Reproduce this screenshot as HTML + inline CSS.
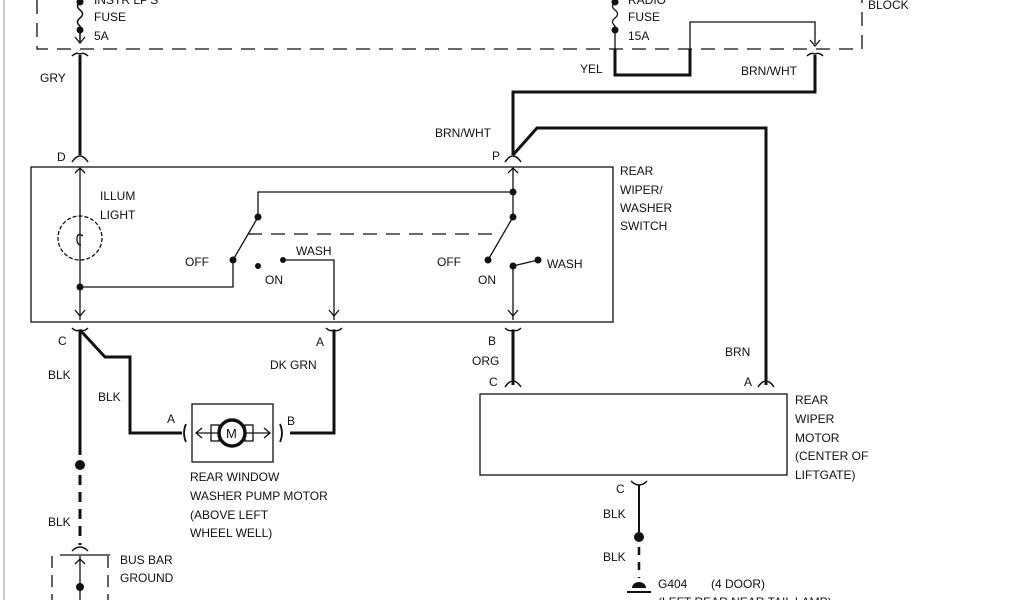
<!DOCTYPE html>
<html><head><meta charset="utf-8"><style>
html,body{margin:0;padding:0;background:#fff;}
svg{display:block;}
text{font-family:"Liberation Sans",sans-serif;font-size:12px;fill:#111;}
</style></head><body>
<svg width="1024" height="600" viewBox="0 0 1024 600" xmlns="http://www.w3.org/2000/svg">
<g stroke="#111" fill="none" stroke-width="1.3">
<line x1="4" y1="0" x2="4" y2="600" stroke="#999" stroke-width="1"/>
<path d="M37 0 V49 H862 V0" stroke-dasharray="14,9"/>
<path d="M80 2 q-5 4 0 8 q5 4 0 8 q-5 4 0 8 V42" stroke-width="1.5"/>
<path d="M75 37 L80 43 L85 37"/>
<path d="M72 56 q4 -4 8 -2 q4 -2 8 2" stroke-width="1.5"/>
<line x1="80" y1="55" x2="80" y2="155" stroke-width="3"/>
<path d="M72 162 q4 -6 8 -6 q4 0 8 6" stroke-width="1.5"/>
<path d="M75 173 L80 168 L85 173"/>
<rect x="31" y="167" width="582" height="155"/>
<line x1="80" y1="168" x2="80" y2="320"/>
<circle cx="80" cy="238" r="22" stroke-dasharray="4,2"/>
<path d="M83 236 q-6 -4 -6 3 q0 6 4 6"/>
<path d="M80 287 H233 V260"/>
<line x1="233" y1="260" x2="258" y2="217"/>
<path d="M258 217 V192 H513"/>
<line x1="248" y1="234" x2="500" y2="234" stroke-dasharray="14,9"/>
<path d="M283 260 H334 V320"/>
<line x1="513" y1="168" x2="513" y2="217"/>
<line x1="513" y1="217" x2="488" y2="260"/>
<path d="M513 320 V266 L538 260"/>
<path d="M75 310 L80 316 L85 310"/>
<path d="M329 310 L334 316 L339 310"/>
<path d="M508 310 L513 316 L518 310"/>
<path d="M508 173 L513 168 L518 173"/>
<path d="M615 2 q-5 4 0 8 q5 4 0 8 q-5 4 0 8 V49"/>
<path d="M615 49 V75 H690 V49" stroke-width="3"/>
<path d="M690 49 V22 H815 V44"/>
<path d="M810 40 L815 46 L820 40"/>
<path d="M807 56 q4 -4 8 -2 q4 -2 8 2" stroke-width="1.5"/>
<path d="M815 55 V92 H513 V155" stroke-width="3"/>
<path d="M505 162 q4 -6 8 -6 q4 0 8 6" stroke-width="1.5"/>
<path d="M513 155 L537 128 H766 V385" stroke-width="3"/>
<path d="M758 387 q4 -6 8 -6 q4 0 8 6" stroke-width="1.5"/>
<path d="M72 328 q4 4 8 2 q4 2 8 -2" stroke-width="1.5"/>
<line x1="80" y1="330" x2="80" y2="455" stroke-width="3"/>
<line x1="80" y1="475" x2="80" y2="545" stroke-width="3" stroke-dasharray="10,7"/>
<path d="M72 551 q4 -4 8 -4 q4 0 8 4" stroke-width="1.5"/>
<line x1="60" y1="555" x2="110" y2="555"/>
<path d="M75 564 L80 559 L85 564"/>
<line x1="80" y1="556" x2="80" y2="600"/>
<line x1="52" y1="556" x2="52" y2="600" stroke-dasharray="12,7"/>
<line x1="108" y1="556" x2="108" y2="600" stroke-dasharray="12,7"/>
<path d="M80 330 L105 357 H130 V433 H182" stroke-width="3"/>
<rect x="192" y="404" width="81" height="58"/>
<path d="M186 424 q-4 9 0 18" stroke-width="1.8"/>
<path d="M280 424 q4 9 0 18" stroke-width="1.8"/>
<line x1="196" y1="433" x2="270" y2="433"/>
<path d="M202 428 L196 433 L202 438"/>
<path d="M264 428 L270 433 L264 438"/>
<rect x="211" y="425" width="8" height="16"/>
<rect x="245" y="425" width="8" height="16"/>
<circle cx="232" cy="433" r="13" fill="#fff" stroke-width="3.5"/>
<path d="M334 330 V433 H290" stroke-width="3"/>
<path d="M326 328 q4 4 8 2 q4 2 8 -2" stroke-width="1.5"/>
<path d="M505 328 q4 4 8 2 q4 2 8 -2" stroke-width="1.5"/>
<line x1="513" y1="330" x2="513" y2="385" stroke-width="3"/>
<path d="M505 387 q4 -6 8 -6 q4 0 8 6" stroke-width="1.5"/>
<rect x="480" y="394" width="307" height="81"/>
<path d="M631 481 q4 4 8 4 q4 0 8 -4" stroke-width="1.5"/>
<line x1="639" y1="485" x2="639" y2="532" stroke-width="2"/>
<line x1="639" y1="547" x2="639" y2="578" stroke-width="2.5" stroke-dasharray="8,7"/>
<line x1="627" y1="592" x2="651" y2="592" stroke-width="2"/>
</g>
<g fill="#111">
<circle cx="80" cy="2" r="3.5"/><circle cx="80" cy="30" r="3.5"/>
<circle cx="615" cy="2" r="3.5"/><circle cx="615" cy="30" r="3.5"/>
<circle cx="80" cy="287" r="3.5"/><circle cx="258" cy="217" r="3.5"/>
<circle cx="233" cy="260" r="3.5"/><circle cx="258" cy="266" r="3"/>
<circle cx="283" cy="260" r="3"/>
<circle cx="513" cy="192" r="3.5"/><circle cx="513" cy="217" r="3.5"/>
<circle cx="488" cy="260" r="3.5"/><circle cx="513" cy="266" r="3.5"/>
<circle cx="538" cy="260" r="3.5"/>
<circle cx="80" cy="465" r="5"/><circle cx="80" cy="587" r="4"/>
<circle cx="639" cy="537" r="5"/>
<path d="M632 588 a7 6 0 0 1 14 0 Z"/>
</g>
<text x="226" y="438" style="font-size:13px">M</text>
<text x="94" y="4">INSTR LP'S</text>
<text x="94" y="21">FUSE</text><text x="94" y="40">5A</text>
<text x="40" y="82">GRY</text>
<text x="57" y="161">D</text>
<text x="100" y="200">ILLUM</text><text x="100" y="219">LIGHT</text>
<text x="185" y="266">OFF</text><text x="265" y="284">ON</text><text x="296" y="255">WASH</text>
<text x="437" y="266">OFF</text><text x="478" y="284">ON</text><text x="547" y="268">WASH</text>
<text x="492" y="160">P</text>
<text x="435" y="137">BRN/WHT</text>
<text x="628" y="4">RADIO</text>
<text x="628" y="21">FUSE</text><text x="628" y="40">15A</text>
<text x="580" y="73">YEL</text>
<text x="741" y="75">BRN/WHT</text>
<text x="868" y="9">BLOCK</text>
<text x="620" y="175">REAR</text><text x="620" y="194">WIPER/</text><text x="620" y="212">WASHER</text><text x="620" y="230">SWITCH</text>
<text x="58" y="345">C</text><text x="48" y="379">BLK</text><text x="98" y="401">BLK</text>
<text x="167" y="423">A</text><text x="287" y="425">B</text>
<text x="316" y="346">A</text><text x="270" y="369">DK GRN</text>
<text x="190" y="481">REAR WINDOW</text><text x="190" y="500">WASHER PUMP MOTOR</text>
<text x="190" y="519">(ABOVE LEFT</text><text x="190" y="537">WHEEL WELL)</text>
<text x="48" y="526">BLK</text>
<text x="120" y="564">BUS BAR</text><text x="120" y="582">GROUND</text>
<text x="488" y="345">B</text><text x="472" y="365">ORG</text><text x="489" y="386">C</text>
<text x="725" y="356">BRN</text><text x="744" y="386">A</text>
<text x="795" y="404">REAR</text><text x="795" y="423">WIPER</text><text x="795" y="442">MOTOR</text>
<text x="795" y="460">(CENTER OF</text><text x="795" y="479">LIFTGATE)</text>
<text x="616" y="493">C</text><text x="603" y="518">BLK</text><text x="603" y="561">BLK</text>
<text x="658" y="588">G404</text><text x="711" y="588">(4 DOOR)</text>
<text x="658" y="606">(LEFT REAR NEAR TAIL LAMP)</text>
</svg>
</body></html>
